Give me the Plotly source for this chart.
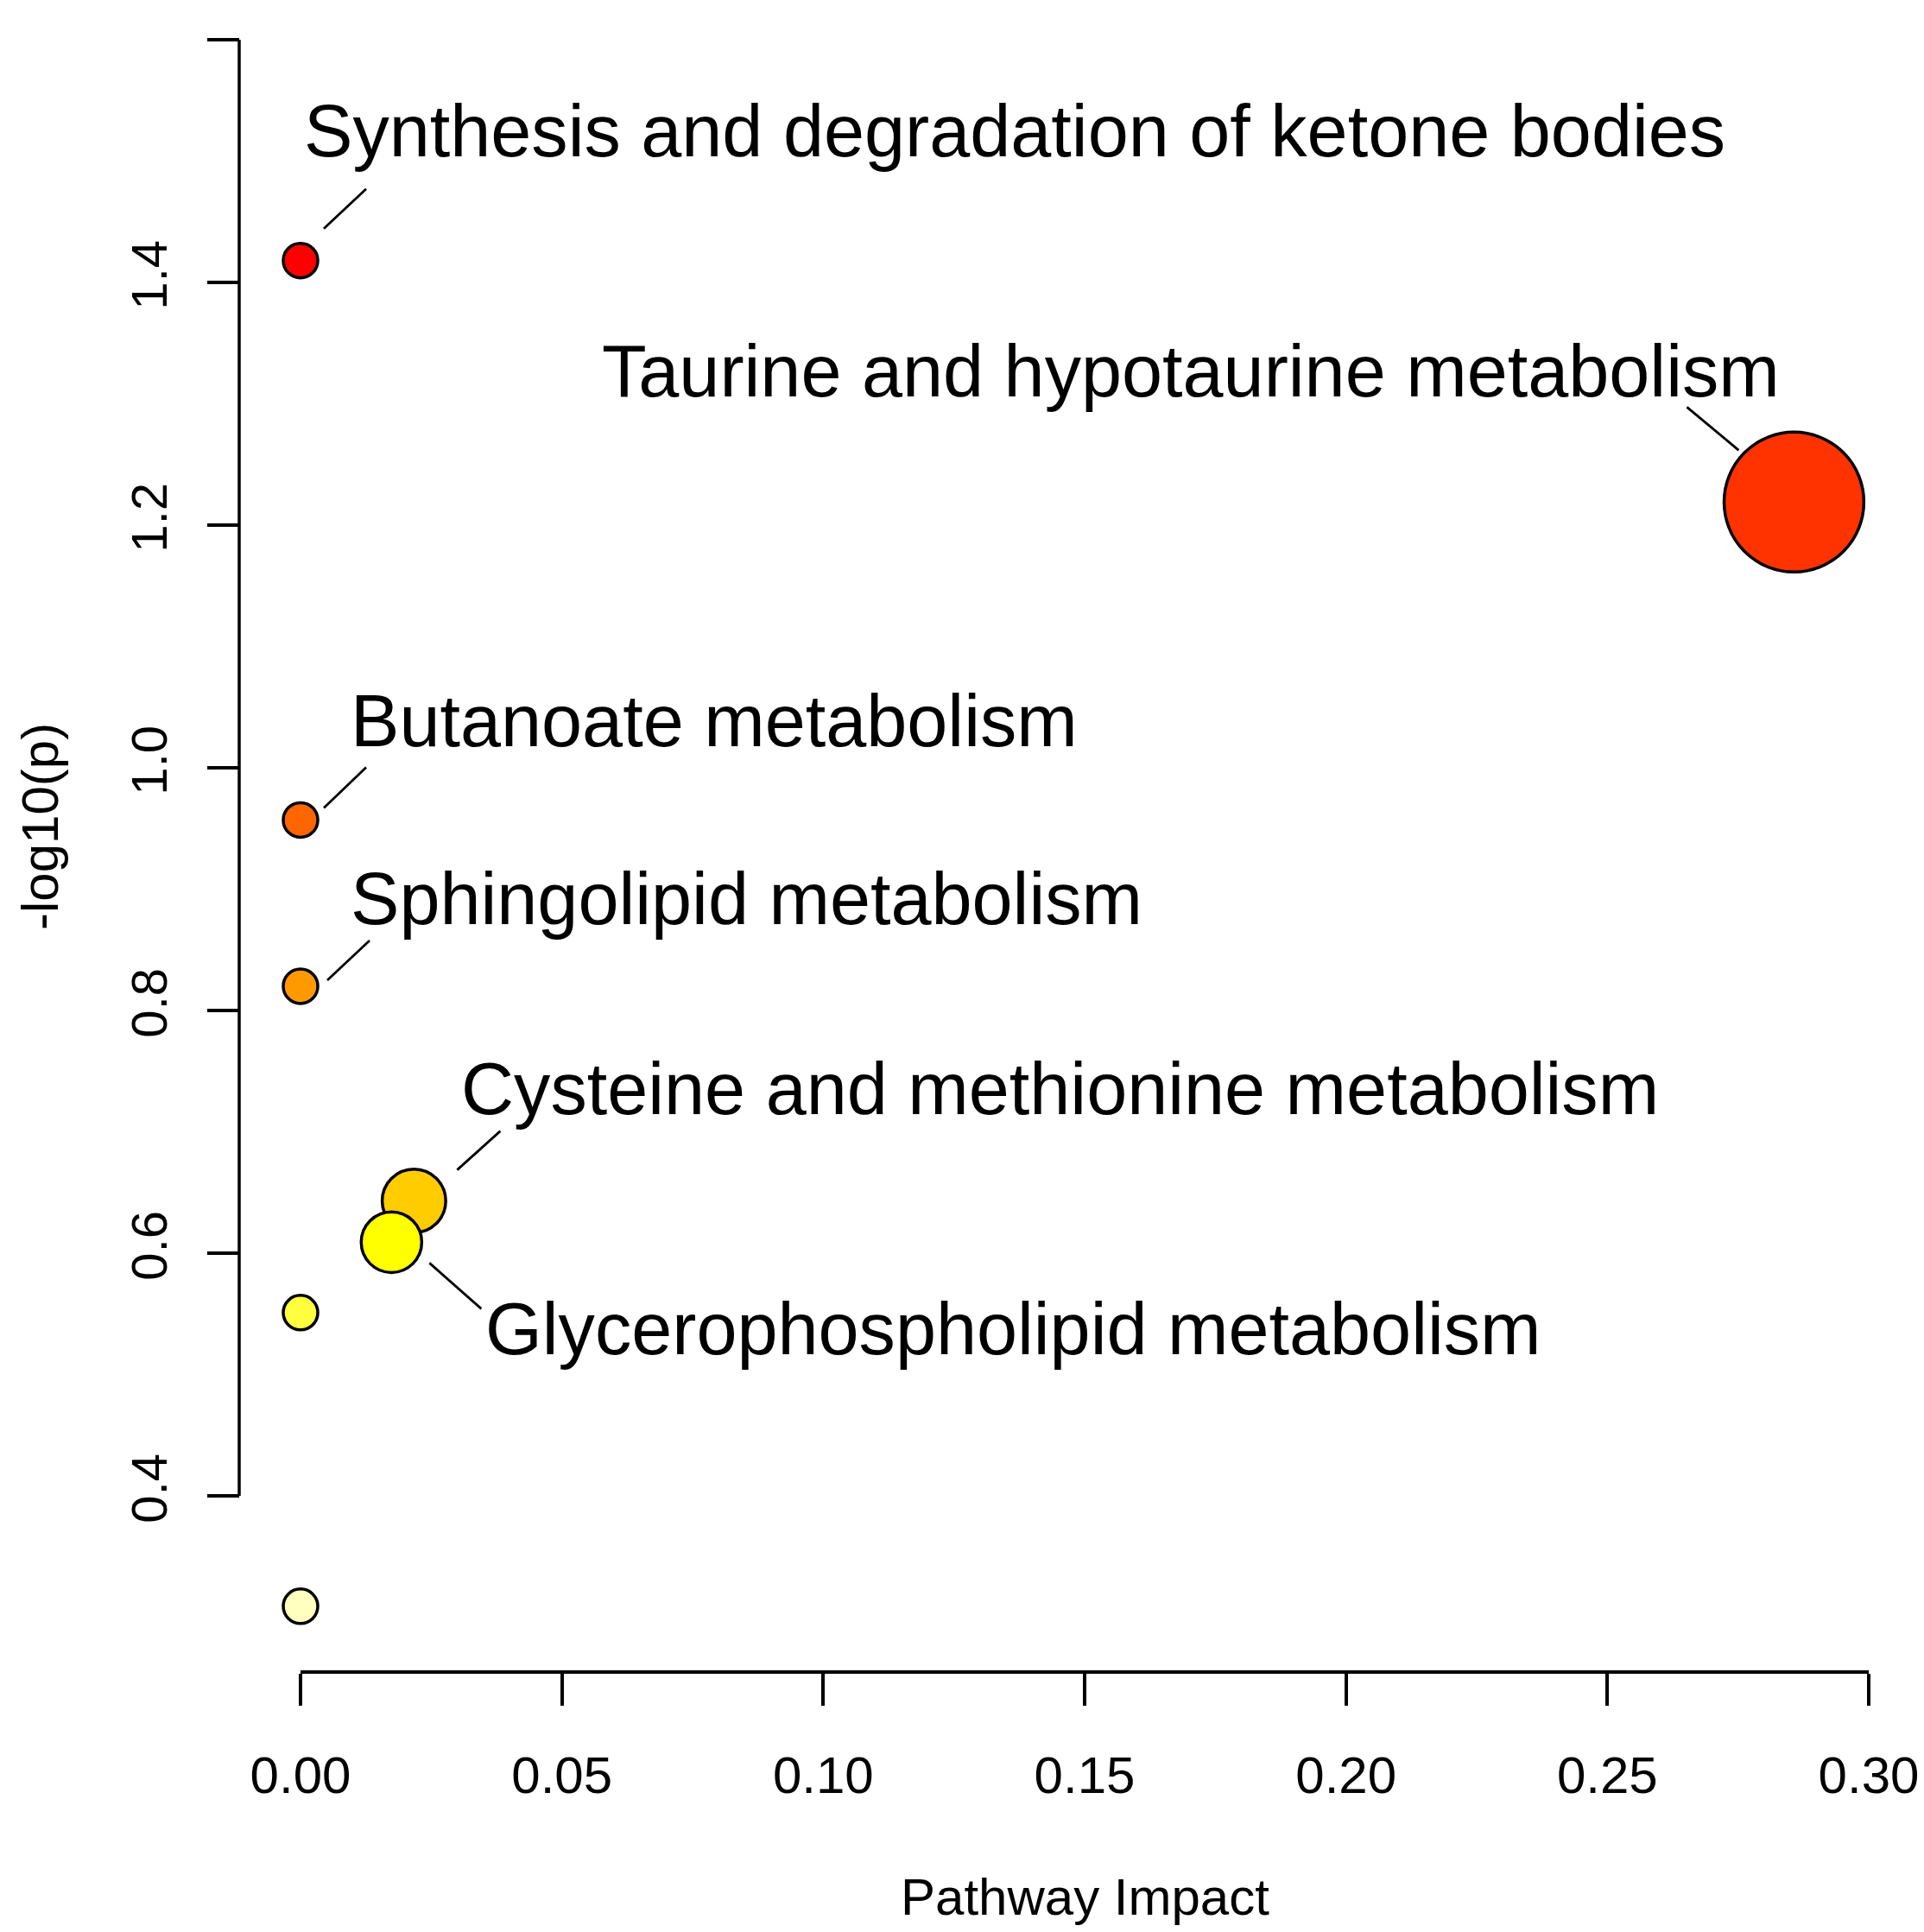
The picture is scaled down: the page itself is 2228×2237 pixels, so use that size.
import plotly.graph_objects as go
import numpy as np

# ---------------- data ----------------
pathways = [
    "Synthesis and degradation of ketone bodies",
    "Taurine and hypotaurine metabolism",
    "Butanoate metabolism",
    "Sphingolipid metabolism",
    "Cysteine and methionine metabolism",
    "Glycerophospholipid metabolism",
    "",
    "",
]
impact = [0.0, 0.2857, 0.0, 0.0, 0.0217, 0.0174, 0.0, 0.0]
neglog_p = [1.418, 1.219, 0.957, 0.820, 0.643, 0.609, 0.551, 0.309]
x_ticks = [0.00, 0.05, 0.10, 0.15, 0.20, 0.25, 0.30]
x_ticktext = ["0.00", "0.05", "0.10", "0.15", "0.20", "0.25", "0.30"]
y_ticks = [0.4, 0.6, 0.8, 1.0, 1.2, 1.4, 1.6]
y_ticktext = ["0.4", "0.6", "0.8", "1.0", "1.2", "1.4", "1.6"]

# ---------------- styles ----------------
W, H = 2228, 2237
FONT = "Liberation Sans, Arial, Helvetica, sans-serif"
# heat.colors(8), ordered by p-value
colors = ["#FF0000", "#FF3300", "#FF6600", "#FF9900", "#FFCC00", "#FFFF00", "#FFFF40", "#FFFFBF"]
sizes = [40 + 228 * np.sqrt(v) for v in impact]

# pixel geometry (px from left / top of the page), corrected for page margin
OFF = 7
X0_PX, X1_PX = 347 - OFF, 2163 - OFF      # x = 0.00 and 0.30
Y0_PX, Y1_PX = 1731 - OFF, 45 - OFF       # y = 0.4 and 1.6
YBOT_PX = 1905 - OFF                      # bottom of plotting region
XAXIS_Y_PX = 1935 - OFF
YAXIS_X_PX = 276 - OFF
ppu_y = (Y0_PX - Y1_PX) / (y_ticks[-1] - y_ticks[0])
y_lo = y_ticks[0] - (YBOT_PX - Y0_PX) / ppu_y

# label placement: text offset (dx, dy in px, dy up), anchor, leader segment offsets
label_style = {
    pathways[0]: dict(dx=2, dy=150, xanchor="left", seg=(27, 37, 76, 83)),
    pathways[1]: dict(dx=-14, dy=152, xanchor="right", seg=(-64, 60, -124, 110)),
    pathways[2]: dict(dx=56, dy=115, xanchor="left", seg=(27, 14, 76, 61)),
    pathways[3]: dict(dx=56, dy=101, xanchor="left", seg=(31, 7, 80, 53)),
    pathways[4]: dict(dx=53, dy=130, xanchor="left", seg=(50, 36, 100, 81)),
    pathways[5]: dict(dx=107, dy=-100, xanchor="left", seg=(44, -24, 104, -77)),
}

fig = go.Figure()
fig.add_trace(go.Scatter(
    x=impact, y=neglog_p, mode="markers",
    text=pathways, hoverinfo="text+x+y",
    marker=dict(size=sizes, color=colors, opacity=1,
                line=dict(color="black", width=3.5)),
    cliponaxis=False, showlegend=False,
))

annotations = []
shapes = []
for name, xv, yv in zip(pathways, impact, neglog_p):
    if name not in label_style:
        continue
    st = label_style[name]
    annotations.append(dict(
        x=xv, y=yv, xref="x", yref="y", text=name, showarrow=False,
        xanchor=st["xanchor"], yanchor="middle",
        xshift=st["dx"], yshift=st["dy"],
        font=dict(family=FONT, size=84.6, color="black"),
    ))
    sx0, sy0, sx1, sy1 = st["seg"]
    shapes.append(dict(
        type="line", xref="x", yref="y",
        xsizemode="pixel", ysizemode="pixel",
        xanchor=xv, yanchor=yv,
        x0=sx0, y0=sy0, x1=sx1, y1=sy1,
        line=dict(color="black", width=2.8), layer="above",
    ))

# y axis line spanning only the tick range (R style)
shapes.append(dict(
    type="line", xref="paper", yref="y",
    x0=YAXIS_X_PX / W, x1=YAXIS_X_PX / W, y0=y_ticks[0], y1=y_ticks[-1],
    line=dict(color="black", width=3.5), layer="above",
))

annotations.append(dict(
    x=(1255 - OFF) / W, y=1 - (2195 - OFF) / H, xref="paper", yref="paper",
    text="Pathway Impact", showarrow=False, xanchor="center", yanchor="middle",
    font=dict(family=FONT, size=60, color="black"),
))
annotations.append(dict(
    x=(45 - OFF) / W, y=1 - (956 - OFF) / H, xref="paper", yref="paper",
    text="-log10(p)", showarrow=False, xanchor="center", yanchor="middle",
    textangle=-90, font=dict(family=FONT, size=60, color="black"), borderpad=0,
))

fig.update_layout(
    width=W, height=H, autosize=False,
    margin=dict(l=0, r=0, t=0, b=0, pad=0, autoexpand=False),
    paper_bgcolor="white", plot_bgcolor="white",
    font=dict(family=FONT, color="black"),
    annotations=annotations, shapes=shapes,
    xaxis=dict(
        domain=[X0_PX / W, X1_PX / W], range=[0, 0.3], automargin=False,
        anchor="free", position=1 - XAXIS_Y_PX / H,
        showgrid=False, zeroline=False, showline=True, linecolor="black", linewidth=3.5,
        ticks="outside", ticklen=37, tickwidth=3.5, tickcolor="black",
        tickmode="array", tickvals=x_ticks, ticktext=x_ticktext,
        tickfont=dict(family=FONT, size=60, color="black"), ticklabelstandoff=29,
    ),
    yaxis=dict(
        domain=[1 - YBOT_PX / H, 1 - Y1_PX / H], range=[y_lo, y_ticks[-1]], automargin=False,
        anchor="free", position=YAXIS_X_PX / W,
        showgrid=False, zeroline=False, showline=False,
        ticks="outside", ticklen=37, tickwidth=3.5, tickcolor="black",
        tickmode="array", tickvals=y_ticks, ticktext=y_ticktext, tickangle=-90,
        tickfont=dict(family=FONT, size=58, color="black"), ticklabelstandoff=24,
    ),
)

fig.write_html("out.html")
